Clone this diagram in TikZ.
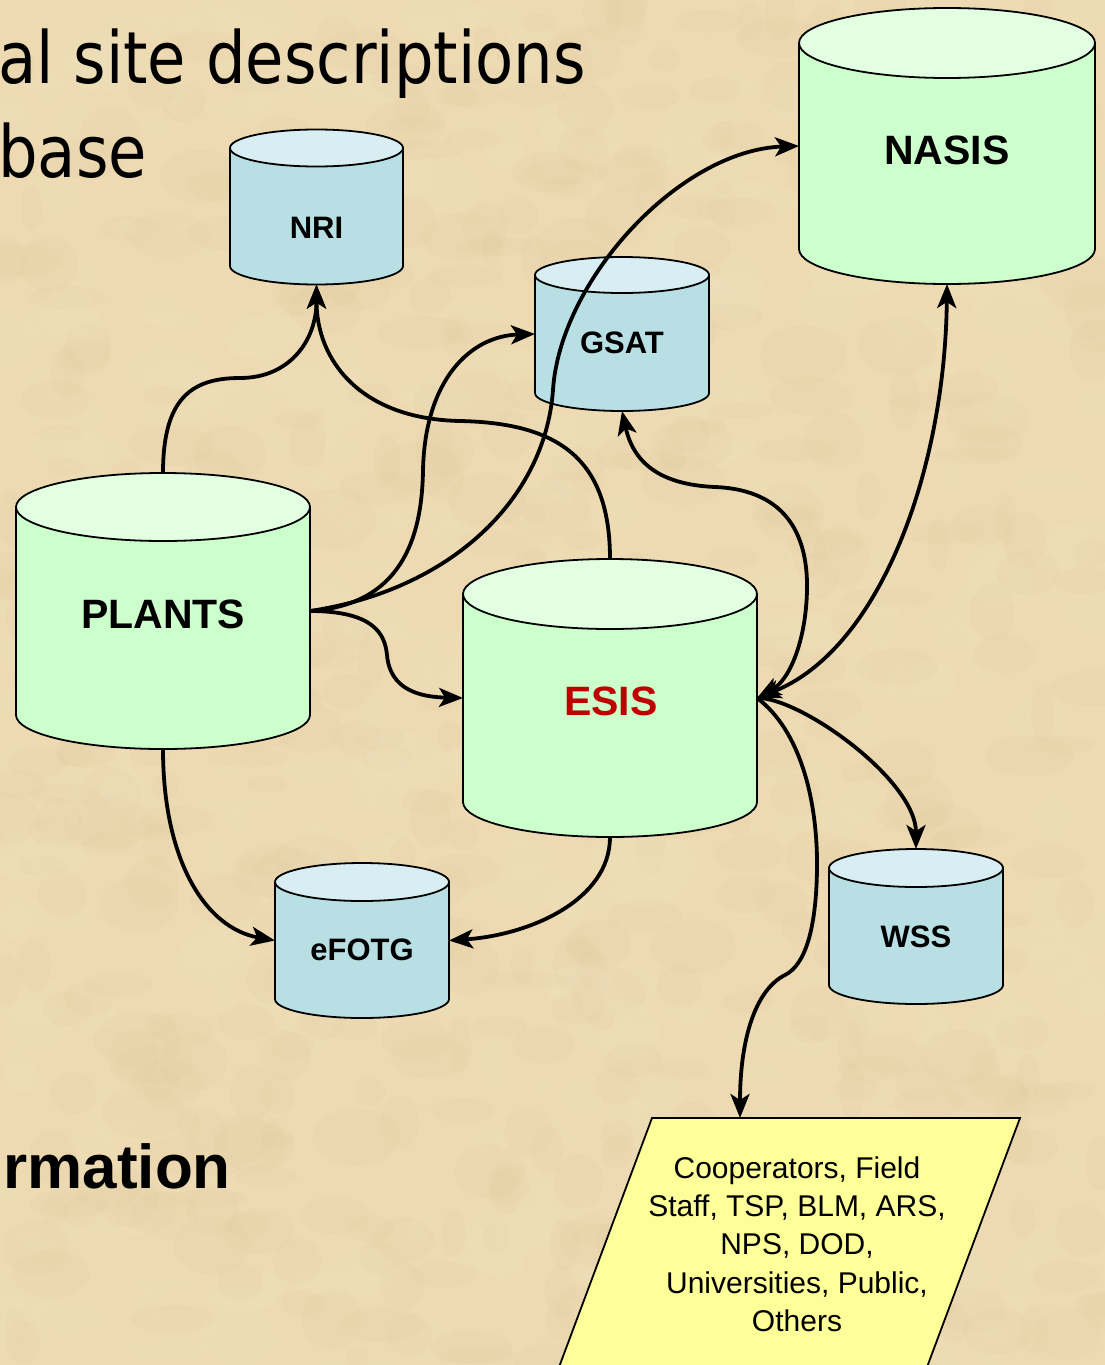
\documentclass[tikz,border=0pt]{standalone}
\usepackage{fontspec}
\setmainfont{Liberation Sans}
\newfontfamily\titlefont[FakeStretch=0.867]{DejaVu Sans}
\usetikzlibrary{arrows.meta}
\definecolor{parchment}{HTML}{EDDAB2}
\definecolor{parchdark}{HTML}{D6BC8A}
\definecolor{parchlight}{HTML}{F8EBCF}
\definecolor{gbody}{HTML}{CCFFCC}
\definecolor{gtop}{HTML}{E2FFE2}
\definecolor{bbody}{HTML}{B8DFE4}
\definecolor{btop}{HTML}{D8EEF2}
\definecolor{usersfill}{HTML}{FFFF99}
\definecolor{esisred}{HTML}{C00000}
\tikzset{
  greenbodyfill/.style={fill=gbody},
  greentopfill/.style={fill=gtop},
  bluebodyfill/.style={fill=bbody},
  bluetopfill/.style={fill=btop},
  cylline/.style={draw=black, line width=1.8pt},
  cylbox/.style={rectangle, draw=none, inner sep=0pt, outer sep=0pt},
  dblabel/.style={font=\fontsize{31}{31}\selectfont\bfseries, inner sep=0pt},
  biglabel/.style={font=\fontsize{41}{41}\selectfont\bfseries, inner sep=0pt},
  titletext/.style={font=\titlefont\fontsize{72}{72}\selectfont, inner sep=0pt},
  rmtext/.style={font=\fontsize{62}{62}\selectfont\bfseries, inner sep=0pt},
  userstext/.style={font=\fontsize{30}{38.3}\selectfont, align=center, inner sep=0pt},
  usersbox/.style={fill=usersfill, draw=black, line width=1.8pt},
  conn/.style={line width=3.8pt, -{Stealth[length=24pt,width=19pt,inset=6pt]}},
  conntwo/.style={line width=3.8pt, {Stealth[length=24pt,width=19pt,inset=6pt]}-{Stealth[length=24pt,width=19pt,inset=6pt]}},
  blotch/.style={opacity=0.07},
}
% #1 name, #2 cx, #3 y of top ellipse, #4 y of bottom ellipse, #5 rx, #6 ry, #7 green/blue
\newcommand\dbcylinder[7]{%
  \path[#7bodyfill, cylline] (#2,#4) ellipse[x radius=#5, y radius=#6];
  \path[#7bodyfill] ({#2-#5},#3) rectangle ({#2+#5},#4);
  \draw[cylline] ({#2-#5},#3) -- ({#2-#5},#4);
  \draw[cylline] ({#2+#5},#3) -- ({#2+#5},#4);
  \path[#7topfill, cylline] (#2,#3) ellipse[x radius=#5, y radius=#6];
  \node[cylbox, minimum width={2*#5*1pt}, minimum height={(#4-#3+2*#6)*1pt}] (#1) at (#2,{(#3+#4)/2}) {};
}
\begin{document}
\begin{tikzpicture}[x=1pt, y=-1pt]
\useasboundingbox (0,0) rectangle (1105,1365);
\clip (0,0) rectangle (1105,1365);
\fill[parchment] (0,0) rectangle (1105,1365);
% parchment mottling
\pgfmathsetseed{7}
\foreach \i in {1,...,500}{
  \pgfmathsetmacro\bx{rnd*1105}
  \pgfmathsetmacro\by{rnd*1365}
  \pgfmathsetmacro\brx{10+rnd*35}
  \pgfmathsetmacro\bry{8+rnd*22}
  \fill[parchdark, blotch] (\bx,\by) ellipse[x radius=\brx, y radius=\bry];
}
\foreach \i in {1,...,500}{
  \pgfmathsetmacro\bx{rnd*1105}
  \pgfmathsetmacro\by{rnd*1365}
  \pgfmathsetmacro\brx{10+rnd*35}
  \pgfmathsetmacro\bry{8+rnd*22}
  \fill[parchlight, blotch] (\bx,\by) ellipse[x radius=\brx, y radius=\bry];
}

% title fragments
\node[titletext, anchor=base west] (title1) at (-2,83) {al site descriptions};
\node[titletext, anchor=base west] (title2) at (-2,177) {base};
\node[rmtext, anchor=base east] (title3) at (231,1188) {rmation};

% users parallelogram
\draw[usersbox] (652,1118) -- (1020,1118) -- (911,1410) -- (543,1410) -- cycle;
\coordinate (users-top) at (740,1118);
\node[userstext] (users) at (797,1244) {Cooperators, Field\\Staff, TSP, BLM, ARS,\\NPS, DOD,\\Universities, Public,\\Others};

% cylinders
\dbcylinder{nri}{316.5}{148}{266}{86.5}{18.5}{blue}
\dbcylinder{gsat}{622}{275}{393}{87}{18}{blue}
\dbcylinder{nasis}{947}{43}{249}{148}{35}{green}
\dbcylinder{plants}{163}{507}{715}{147}{34}{green}
\dbcylinder{esis}{610}{594}{802}{147}{35}{green}
\dbcylinder{efotg}{362}{882}{999}{87}{19}{blue}
\dbcylinder{wss}{916}{868}{985}{87}{19}{blue}

% connectors
\draw[conn] (plants.north) .. controls (163,400) and (190,378) .. (240,378)
  .. controls (290,378) and (316.5,340) .. (nri.south);
\draw[conn] (esis.north) .. controls (610,460) and (560,423) .. (460,421)
  .. controls (360,419) and (316.5,360) .. (nri.south);
\draw[conn] (plants.east) .. controls (400,605) and (422,540) .. (423,470)
  .. controls (425,380) and (470,336) .. (gsat.west);
\draw[conn] (plants.east) .. controls (450,590) and (545,500) .. (553,390)
  .. controls (560,280) and (680,150) .. (nasis.west);
\draw[conn] (plants.east) .. controls (375,611) and (385,635) .. (387,655)
  .. controls (390,690) and (420,697) .. (esis.west);
\draw[conn] (plants.south) .. controls (163,860) and (205,928) .. (efotg.west);
\draw[conn] (esis.south) .. controls (610,900) and (530,935) .. (efotg.east);
\draw[conntwo] (gsat.south) .. controls (635,470) and (670,485) .. (715,487)
  .. controls (790,490) and (808,540) .. (807,590)
  .. controls (806,640) and (790,680) .. (esis.east);
\draw[conntwo] (nasis.south) .. controls (945,470) and (880,650) .. (esis.east);
\draw[conn] (esis.east) .. controls (800,697) and (916,780) .. (wss.north);
\draw[conn] (esis.east) .. controls (800,730) and (818,800) .. (817,870)
  .. controls (816,930) and (805,965) .. (785,975)
  .. controls (755,990) and (740,1040) .. (users-top);

% labels
\node[dblabel] (nri-label) at (316.5,228) {NRI};
\node[dblabel] (gsat-label) at (622,343) {GSAT};
\node[biglabel] (nasis-label) at (947,150) {NASIS};
\node[biglabel] (plants-label) at (163,614) {PLANTS};
\node[biglabel, text=esisred] (esis-label) at (611,701) {ESIS};
\node[dblabel] (efotg-label) at (362,950) {eFOTG};
\node[dblabel] (wss-label) at (916,937) {WSS};
\end{tikzpicture}
\end{document}
